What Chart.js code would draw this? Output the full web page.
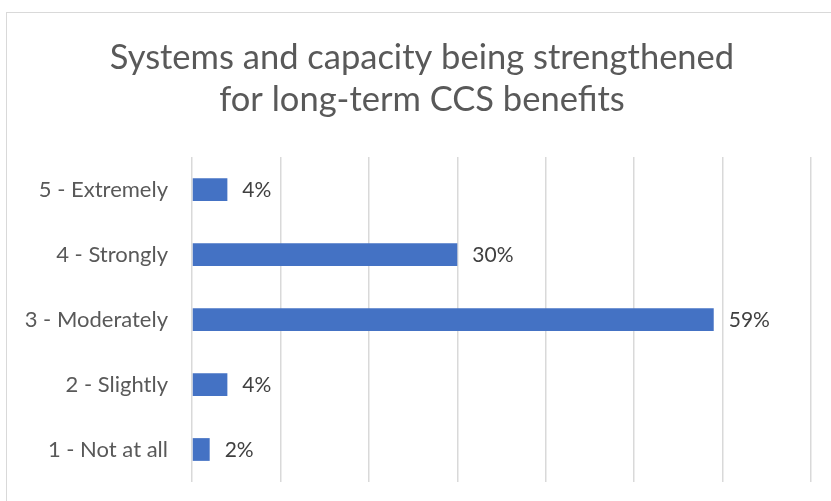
<!DOCTYPE html>
<html>
<head>
<meta charset="utf-8">
<script src="https://cdn.jsdelivr.net/npm/chart.js@4"></script>
<style>
  html, body { margin: 0; padding: 0; background: #fff; overflow: hidden; }
  #wrap {
    position: absolute; left: 6px; top: 12px;
    width: 826px; height: 490px;
    box-sizing: border-box; border: 1px solid #d9d9d9;
  }
  #chart { display: block; }
</style>
</head>
<body>
<div id="wrap"><canvas id="chart" width="824" height="488"></canvas></div>
<script>
// categories (top to bottom) and percent values
const categories = ['5 - Extremely', '4 - Strongly', '3 - Moderately', '2 - Slightly', '1 - Not at all'];
const percents = [4, 30, 59, 4, 2];
const titleLines = ['Systems and capacity being strengthened', 'for long-term CCS benefits'];

const FONT = 'Lato, "Open Sans", sans-serif';

// writes "NN%" right after each bar end
const barLabels = {
  id: 'barLabels',
  afterDatasetsDraw(chart) {
    const ctx = chart.ctx;
    const meta = chart.getDatasetMeta(0);
    ctx.save();
    ctx.font = '21px ' + FONT;
    ctx.fillStyle = '#404040';
    ctx.textAlign = 'left';
    ctx.textBaseline = 'middle';
    meta.data.forEach((bar, i) => {
      ctx.fillText(percents[i] + '%', bar.x + 15, bar.y + 1);
    });
    ctx.restore();
  }
};

// center the title on the whole canvas rather than on the padded box
const titleCenter = {
  id: 'titleCenter',
  afterLayout(chart) {
    const t = chart.titleBlock;
    if (t) { t.left += 13; t.right += 13; }
  }
};

new Chart(document.getElementById('chart'), {
  type: 'bar',
  data: {
    labels: categories,
    datasets: [{
      data: percents,
      backgroundColor: '#4472c4',
      borderWidth: 0,
      categoryPercentage: 1,
      barPercentage: 0.35
    }]
  },
  options: {
    indexAxis: 'y',
    responsive: false,
    animation: false,
    layout: { padding: { left: 0, right: 20, top: 0, bottom: 19 } },
    plugins: {
      legend: { display: false },
      tooltip: { enabled: false },
      title: {
        display: true,
        text: titleLines,
        color: '#595959',
        font: { family: FONT, size: 34.5, weight: 'normal', lineHeight: 42 / 34.5 },
        padding: { top: 24, bottom: 36 }
      }
    },
    scales: {
      x: {
        min: 0, max: 70,
        ticks: { display: false, stepSize: 10 },
        border: { display: false },
        grid: { color: '#d9d9d9', lineWidth: 1.5, drawTicks: false },
        afterFit(scale) { scale.height = 0; }
      },
      y: {
        // tick gap comes from the (hidden) tick length so it doesn't pad the chart area
        ticks: { color: '#595959', font: { family: FONT, size: 22 }, padding: 0 },
        border: { display: false },
        grid: { display: false, drawTicks: true, tickLength: 24 },
        afterFit(scale) { scale.width = 185; }
      }
    }
  },
  plugins: [barLabels, titleCenter]
});
</script>
</body>
</html>
